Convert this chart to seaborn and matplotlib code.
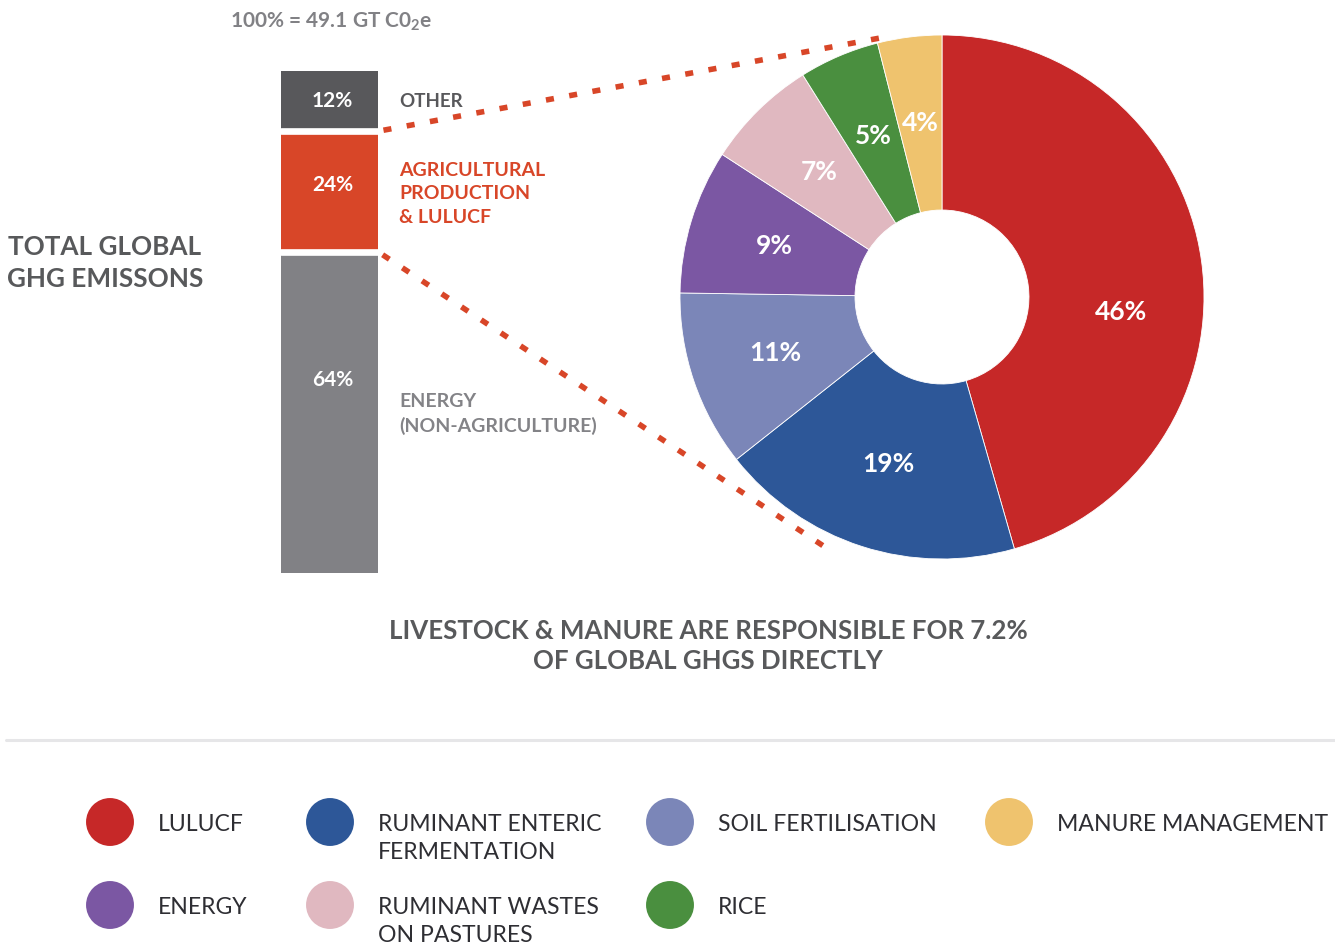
"""Total global GHG emissions: stacked bar + agriculture donut."""
import numpy as np
import pandas as pd
import seaborn as sns

from matplotlib import pyplot as plt
from matplotlib.patches import ConnectionPatch


# ---- data ----
bar_labels = ["OTHER", "AGRICULTURAL\nPRODUCTION\n& LULUCF", "ENERGY\n(NON-AGRICULTURE)"]
bar_values = [12, 24, 64]

ag_labels = [
    "LULUCF",
    "RUMINANT ENTERIC\nFERMENTATION",
    "SOIL FERTILISATION",
    "ENERGY",
    "RUMINANT WASTES\nON PASTURES",
    "RICE",
    "MANURE MANAGEMENT",
]
ag_values = [46, 19, 11, 9, 7, 5, 4]

TOTAL_TEXT = "100% = 49.1 GT C0$_\\mathregular{2}$e"
LEFT_TITLE = "TOTAL GLOBAL\nGHG EMISSONS"
FOOTNOTE = "LIVESTOCK & MANURE ARE RESPONSIBLE FOR 7.2%\nOF GLOBAL GHGS DIRECTLY"

# ---- styles ----
BAR_COLORS = ["#58585B", "#D84628", "#818185"]
BAR_TEXT_COLORS = ["#58585B", "#D84628", "#838387"]
AG_COLORS = ["#C62828", "#2D5798", "#7B86B8", "#7B57A3", "#E0B8C0", "#4A8F3F", "#EFC36E"]
TITLE_GRAY = "#58595B"

W, H = 1335, 947

sns.set_style("white")
plt.rcParams["font.family"] = ["Lato", "DejaVu Sans"]
plt.rcParams["mathtext.fontset"] = "custom"
plt.rcParams["mathtext.rm"] = "Lato"


def fig_rect(left, top, right, bottom):
    """Pixel box -> figure fraction rect."""
    return [left / W, 1 - bottom / H, (right - left) / W, (bottom - top) / H]


fig = plt.figure(figsize=(W / 100, H / 100), dpi=100, facecolor="white")

# overlay in pixel coords for free text + legend
ax_txt = fig.add_axes([0, 0, 1, 1])
ax_txt.set_xlim(0, W)
ax_txt.set_ylim(H, 0)
ax_txt.axis("off")

# ---- stacked bar ----
ax_bar = fig.add_axes(fig_rect(281, 71, 378, 573))
cum = np.cumsum(bar_values[::-1])[::-1]  # 100, 88, 64
for val, col in zip(cum, BAR_COLORS):
    sns.barplot(x=["total"], y=[val], color=col, saturation=1, width=1,
                linewidth=0, ax=ax_bar)
ax_bar.set_xlim(-0.5, 0.5)
ax_bar.set_ylim(0, 100)
ax_bar.axis("off")
for edge in cum[1:]:
    ax_bar.axhline(edge, color="white", lw=4.8)

bottoms = np.append(cum[1:], 0)
label_frac = [0.5, 0.55, 0.6]   # labels sit a bit high in the original
for val, bot, frac in zip(bar_values, bottoms, label_frac):
    ax_bar.text(0.03, bot + val * frac, f"{val}%", ha="center", va="center",
                color="white", fontsize=15, fontweight="bold")

ax_txt.text(399, 101, bar_labels[0], color=BAR_TEXT_COLORS[0], fontsize=13.5,
            fontweight="bold", va="center")
ax_txt.text(399, 162, bar_labels[1], color=BAR_TEXT_COLORS[1], fontsize=14,
            fontweight="bold", va="top", linespacing=1.45)
ax_txt.text(399, 393, bar_labels[2], color=BAR_TEXT_COLORS[2], fontsize=14,
            fontweight="bold", va="top", linespacing=1.45)

ax_txt.text(230, 22, TOTAL_TEXT, color="#818185", fontsize=15,
            fontweight="bold", va="center")
ax_txt.text(105, 263, LEFT_TITLE, color=TITLE_GRAY, fontsize=18.8,
            fontweight="bold", ha="center", va="center", linespacing=1.42)
ax_txt.text(708, 646, FOOTNOTE, color=TITLE_GRAY, fontsize=18.6,
            fontweight="bold", ha="center", va="center", linespacing=1.33)

# ---- donut ----
ax_pie = fig.add_axes(fig_rect(680, 35, 1204, 559))
wedges, texts = ax_pie.pie(
    ag_values,
    colors=AG_COLORS,
    labels=[f"{v}%" for v in ag_values],
    labeldistance=0.67,
    startangle=90,
    counterclock=False,
    wedgeprops=dict(width=0.668, edgecolor="white", linewidth=0.6),
    textprops=dict(color="white", fontsize=19, fontweight="bold"),
)
for t in texts:
    t.set_ha("center")
    t.set_va("center")
texts[0].set_position((0.683, -0.057))  # big slice label sits lower in the original
ax_pie.set_xlim(-1, 1)
ax_pie.set_ylim(-1, 1)

# ---- dotted connectors ----
for y_bar, xy_pie in [(cum[1], (-0.218, 0.992)), (cum[2], (-0.447, -0.954))]:
    con = ConnectionPatch(
        xyA=(0.5, y_bar), coordsA=ax_bar.transData,
        xyB=xy_pie, coordsB=ax_pie.transData,
        color="#D84628", lw=4, linestyle=(0, (1.45, 2.8)),
        capstyle="butt", shrinkA=4, shrinkB=0,
    )
    fig.add_artist(con)

# ---- separator + legend ----
ax_txt.axhline(740, xmin=6 / W, color="#E6E6E8", lw=2.2)

col_x = [110, 330, 670, 1009]
row_y = [822, 905]
leg = pd.DataFrame({
    "label": ag_labels,
    "x": [col_x[0], col_x[1], col_x[2], col_x[0], col_x[1], col_x[2], col_x[3]],
    "y": [row_y[0], row_y[0], row_y[0], row_y[1], row_y[1], row_y[1], row_y[0]],
})
sns.scatterplot(data=leg, x="x", y="y", hue="label",
                palette=dict(zip(ag_labels, AG_COLORS)),
                s=1190, linewidth=0, legend=False, ax=ax_txt)
for _, r in leg.iterrows():
    ax_txt.text(r["x"] + 48, r["y"] - 8, r["label"], color="#2E2E33",
                fontsize=16.6, va="top", linespacing=1.4)
ax_txt.set_xlim(0, W)
ax_txt.set_ylim(H, 0)
ax_txt.axis("off")

fig.savefig("out.png", dpi=100, facecolor="white")
plt.close("all")
